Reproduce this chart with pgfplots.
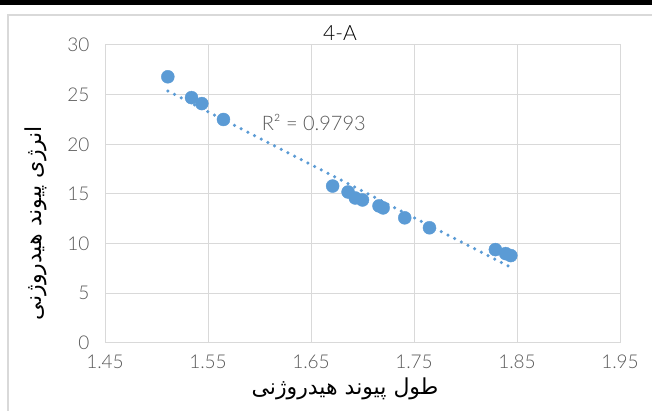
\documentclass[border=0pt]{standalone}
\usepackage{pgfplots}
\usepackage{pgfplotstable}
\pgfplotsset{compat=1.18}
\usepackage{fontspec}
\setmainfont{Lato Light}
\newfontfamily\arabicfont[Script=Arabic]{DejaVu Sans}
\TeXXeTstate=1
\definecolor{ptblue}{HTML}{5B9BD5}
\definecolor{gridgray}{HTML}{D9D9D9}
\definecolor{textgray}{HTML}{595959}
\pgfplotstableread{
x y
1.511 26.8
1.534 24.7
1.544 24.1
1.565 22.5
1.671 15.8
1.686 15.2
1.693 14.6
1.700 14.4
1.716 13.8
1.720 13.6
1.741 12.6
1.765 11.6
1.829 9.4
1.839 9.0
1.844 8.8
}\datatable
\begin{document}
\begin{tikzpicture}[x=1pt,y=1pt]
\useasboundingbox (0,0) rectangle (652,411);
\fill[black] (0,406) rectangle (652,411);
\draw[gridgray, line width=1.2pt] (8,0) -- (8,396) -- (652,396);
\begin{axis}[
  at={(105pt,68pt)}, anchor=south west,
  scale only axis, width=515pt, height=298pt,
  xmin=1.45, xmax=1.95, ymin=0, ymax=30,
  xtick={1.45,1.55,1.65,1.75,1.85,1.95},
  ytick={0,5,10,15,20,25,30},
  grid=major,
  grid style={gridgray, line width=1pt},
  axis line style={gridgray, line width=1pt},
  major tick length=0pt,
  /pgf/number format/assume math mode=true,
  tick label style={font=\fontsize{19}{19}\selectfont, color=textgray},
  xticklabel style={/pgf/number format/fixed, /pgf/number format/precision=2, /pgf/number format/fixed zerofill, yshift=-8pt},
  yticklabel style={xshift=-12pt},
  clip=false,
]
\addplot[only marks, mark=*, mark size=6.5pt, color=ptblue] table {\datatable};
\addplot[no marks, ptblue, line width=3.5pt, line cap=round, dash pattern=on 0pt off 7.5pt] table[x=x, y={create col/linear regression={y=y}}] {\datatable};
\node[anchor=west, font=\fontsize{20}{20}\selectfont, text=textgray, inner sep=0pt] at (axis cs:1.602,22.2) {R² = 0.9793};
\end{axis}
\node[font=\fontsize{21}{21}\selectfont, text=black] at (340,378) {4-A};
\node[font=\arabicfont\fontsize{22}{22}\selectfont] at (345,22) {\beginR طول پیوند هیدروژنی\endR};
\node[font=\arabicfont\fontsize{22}{22}\selectfont, rotate=90] at (36,188) {\beginR انرژی پیوند هیدروژنی\endR};
\end{tikzpicture}
\end{document}
